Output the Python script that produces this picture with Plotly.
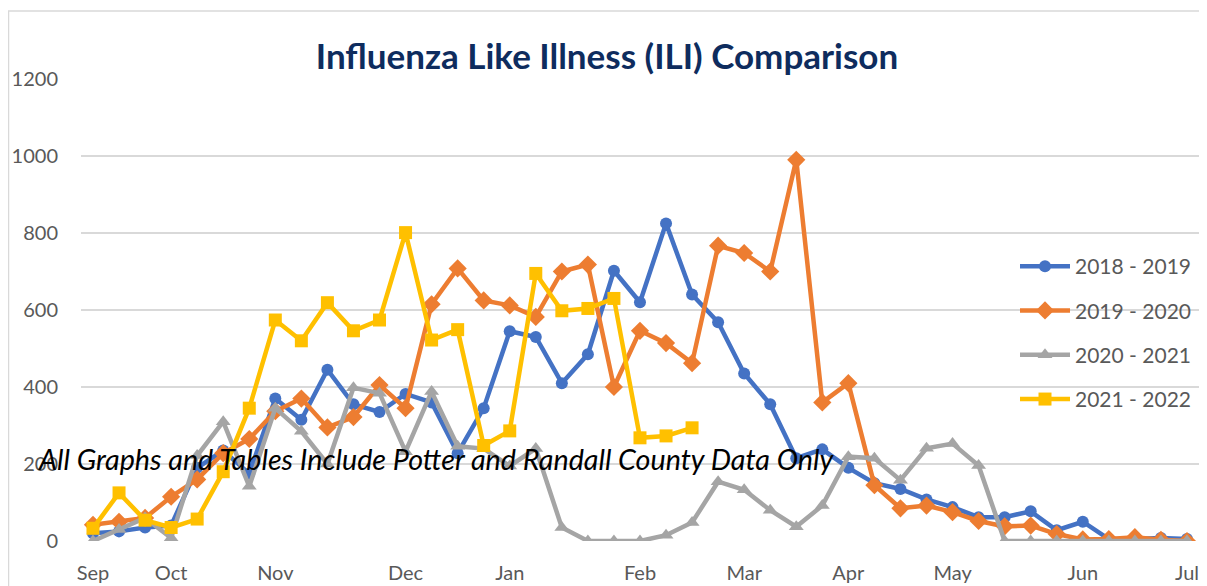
import plotly.graph_objects as go

weeks = list(range(43))
month_ticks = [0, 3, 7, 12, 16, 21, 25, 29, 33, 38, 42]
month_labels = ["Sep", "Oct", "Nov", "Dec", "Jan", "Feb", "Mar", "Apr", "May", "Jun", "Jul"]

s2018_2019 = [20, 25, 35, 40, 190, 235, 175, 370, 315, 445, 355, 335, 382, 360, 228, 345,
              545, 530, 410, 485, 702, 620, 825, 640, 568, 435, 355, 215, 238, 190, 150, 135,
              108, 88, 62, 62, 77, 28, 50, 5, 5, 8, 5]
s2019_2020 = [42, 50, 60, 115, 160, 228, 265, 337, 370, 295, 322, 405, 345, 615, 708, 625,
              612, 582, 700, 718, 400, 546, 514, 462, 767, 748, 700, 990, 360, 410, 145, 85,
              92, 75, 52, 38, 40, 18, 4, 5, 10, 3, 0]
s2020_2021 = [0, 30, 60, 8, 222, 310, 142, 345, 285, 200, 398, 384, 232, 388, 246, 240,
              195, 240, 35, 0, 0, 0, 15, 48, 154, 133, 80, 37, 92, 219, 215, 158,
              241, 253, 196, 0, 0, 0, 0, 0, 0, 0, 0]
s2021_2022 = [33, 125, 54, 35, 57, 180, 345, 574, 520, 619, 546, 574, 801, 522, 549, 248,
              286, 695, 598, 604, 630, 268, 273, 294]

series = [
    ("2018 - 2019", s2018_2019, "#4472C4", "circle", 12),
    ("2019 - 2020", s2019_2020, "#ED7D31", "diamond", 14),
    ("2020 - 2021", s2020_2021, "#A5A5A5", "triangle-up", 13),
    ("2021 - 2022", s2021_2022, "#FFC000", "square", 13),
]

fig = go.Figure()
for name, vals, color, sym, size in series:
    fig.add_trace(go.Scatter(
        x=weeks[:len(vals)], y=vals, name=name, mode="lines+markers",
        line=dict(color=color, width=4.5),
        marker=dict(symbol=sym, size=size, color=color),
        legendgroup=name,
    ))

OFF = 8  # page body margin
W, H = 1207 - OFF, 586 - OFF
PL, PR, PT, PB = 81 - OFF, 1200 - OFF, 79 - OFF, 541 - OFF


def px_x(page_x):
    return (page_x - OFF - PL) / (PR - PL)


def px_y(page_y):
    return (PB - (page_y - OFF)) / (PB - PT)


fig.update_layout(
    width=W, height=H,
    margin=dict(l=PL, r=W - PR, t=PT, b=H - PB, autoexpand=False),
    paper_bgcolor="white", plot_bgcolor="white",
    font=dict(family="Lato, Open Sans, sans-serif", color="#595959"),
    title=dict(text="<b>Influenza Like Illness (ILI) Comparison</b>",
               x=px_x(607), xref="paper", xanchor="center",
               y=1 - (57 - OFF) / H, yanchor="middle",
               font=dict(size=35, color="#0E2C5E", family="Lato, Open Sans, sans-serif")),
    xaxis=dict(range=[-0.46, 42.5], tickvals=month_ticks, ticktext=month_labels,
               showgrid=False, zeroline=False, showline=False, ticks="",
               ticklabelstandoff=18, automargin=False,
               tickfont=dict(size=20, color="#595959")),
    yaxis=dict(range=[0, 1200], dtick=200, showgrid=True, gridcolor="#D9D9D9", gridwidth=2,
               zeroline=False, showline=False, ticks="",
               ticklabelstandoff=22, automargin=False,
               tickfont=dict(size=20, color="#595959")),
    legend=dict(x=px_x(1015), xanchor="left",
                y=px_y(246), yanchor="top",
                font=dict(size=21, color="#595959"),
                tracegroupgap=14, itemwidth=50, bgcolor="rgba(0,0,0,0)"),
    showlegend=True,
)

fig.add_annotation(
    text="<i>All Graphs and Tables Include Potter and Randall County Data Only</i>",
    xref="paper", yref="paper",
    x=px_x(36), xanchor="left",
    y=px_y(459), yanchor="middle",
    showarrow=False, font=dict(size=28.7, color="#000000", family="Lato, Open Sans, sans-serif"),
)

fig.add_shape(type="rect", xref="paper", yref="paper",
              x0=px_x(8.5), x1=px_x(1230),
              y0=px_y(620), y1=px_y(11),
              line=dict(color="#D9D9D9", width=1.5), layer="below")

fig.write_html("out.html")
